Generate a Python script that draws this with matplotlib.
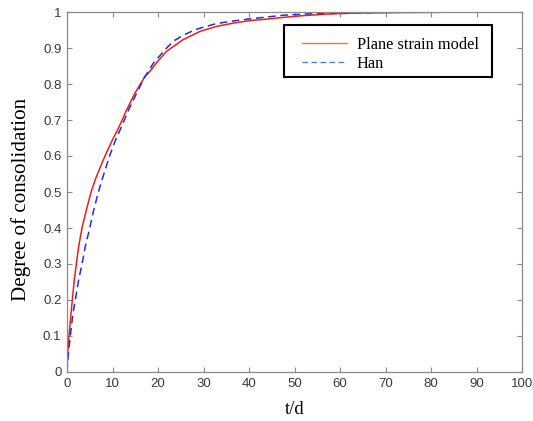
import matplotlib
matplotlib.use("Agg")
import matplotlib.pyplot as plt
from matplotlib.lines import Line2D
from matplotlib.patches import Rectangle

# Plane strain model (red solid)
t_plane = [0, 0.15, 0.44, 0.88, 1.17, 1.6, 2.05, 2.57, 3.3, 4.25, 5.3, 6.2, 7.5, 8.6,
           10.0, 11.4, 13.0, 14.9, 17.1, 18.2, 20.0, 21.9, 25.5, 29.2, 32.9, 36.5,
           40.2, 44.6, 47.5, 52.0, 57.0, 63.0, 70.0, 80.0, 90.0, 100.0]
u_plane = [0, 0.05, 0.1, 0.162, 0.2, 0.256, 0.3, 0.349, 0.4, 0.45, 0.5, 0.534, 0.575, 0.607,
           0.645, 0.68, 0.725, 0.774, 0.82, 0.835, 0.864, 0.891, 0.923, 0.946, 0.96, 0.969,
           0.976, 0.981, 0.985, 0.99, 0.994, 0.997, 0.998, 0.999, 1.0, 1.0]

# Han (blue dashed)
t_han = [0, 0.3, 0.73, 1.3, 1.83, 2.57, 3.3, 4.03, 5.0, 5.87, 6.9, 7.7, 9.3, 10.6, 12.0,
         13.6, 15.3, 17.1, 19.0, 20.5, 21.9, 23.5, 25.5, 27.5, 29.2, 32.9, 36.5, 40.2,
         44.6, 47.5, 52.0, 57.0, 63.0, 70.0, 80.0, 100.0]
u_han = [0, 0.05, 0.1, 0.162, 0.2, 0.256, 0.3, 0.349, 0.4, 0.45, 0.5, 0.534, 0.598, 0.642,
         0.682, 0.73, 0.774, 0.82, 0.858, 0.88, 0.9, 0.92, 0.935, 0.947, 0.955, 0.968,
         0.975, 0.981, 0.987, 0.991, 0.994, 0.997, 0.998, 0.999, 1.0, 1.0]

x_ticks = list(range(0, 101, 10))
y_ticks = [0, 0.1, 0.2, 0.3, 0.4, 0.5, 0.6, 0.7, 0.8, 0.9, 1.0]
y_tick_labels = ["0", "0.1", "0.2", "0.3", "0.4", "0.5", "0.6", "0.7", "0.8", "0.9", "1"]
legend_labels = ["Plane strain model", "Han"]

fig = plt.figure(figsize=(5.33, 4.21), dpi=100)
ax = fig.add_axes([67 / 533, 49 / 421, 455 / 533, 360 / 421])

ax.plot(t_plane, u_plane, color="#e8201a", lw=1.1, solid_joinstyle="round")
ax.plot(t_han, u_han, color="#2a2ad8", lw=1.1, dashes=(5, 3))

ax.set_xlim(0, 100)
ax.set_ylim(0, 1)
ax.set_xticks(x_ticks)
ax.set_yticks(y_ticks)
ax.set_yticklabels(y_tick_labels)

for s in ax.spines.values():
    s.set_color("#8a8a8a")
    s.set_linewidth(0.9)
ax.tick_params(direction="in", top=True, right=True, length=3.5, width=0.8,
               color="#8a8a8a", labelcolor="#3a3a3a", labelsize=9.5, pad=4)
for lab in ax.get_xticklabels() + ax.get_yticklabels():
    lab.set_family(["Liberation Sans", "DejaVu Sans"])

ax.set_xlabel("t/d", family="Liberation Serif", fontsize=13.5, labelpad=8)
ax.set_ylabel("Degree of consolidation", family="Liberation Serif", fontsize=15.2)
ax.yaxis.set_label_coords(-0.08, 0.478)

# legend box
ax.add_patch(Rectangle((0.477, 0.819), 0.457, 0.145, transform=ax.transAxes,
                       facecolor="white", edgecolor="black", lw=1.5, zorder=5,
                       clip_on=False))
handles = [Line2D([], [], color="#f5782a", lw=1.0),
           Line2D([], [], color="#4a88cc", lw=1.0, dashes=(4, 2.5))]
leg = ax.legend(handles, legend_labels, loc="upper left",
                bbox_to_anchor=(0.5165, 0.930), borderaxespad=0, borderpad=0,
                prop={"family": "Liberation Serif", "size": 11.8},
                frameon=False, handlelength=2.75, handletextpad=0.6,
                labelspacing=0.15)
leg.set_zorder(6)

fig.savefig("out.png", dpi=100)
